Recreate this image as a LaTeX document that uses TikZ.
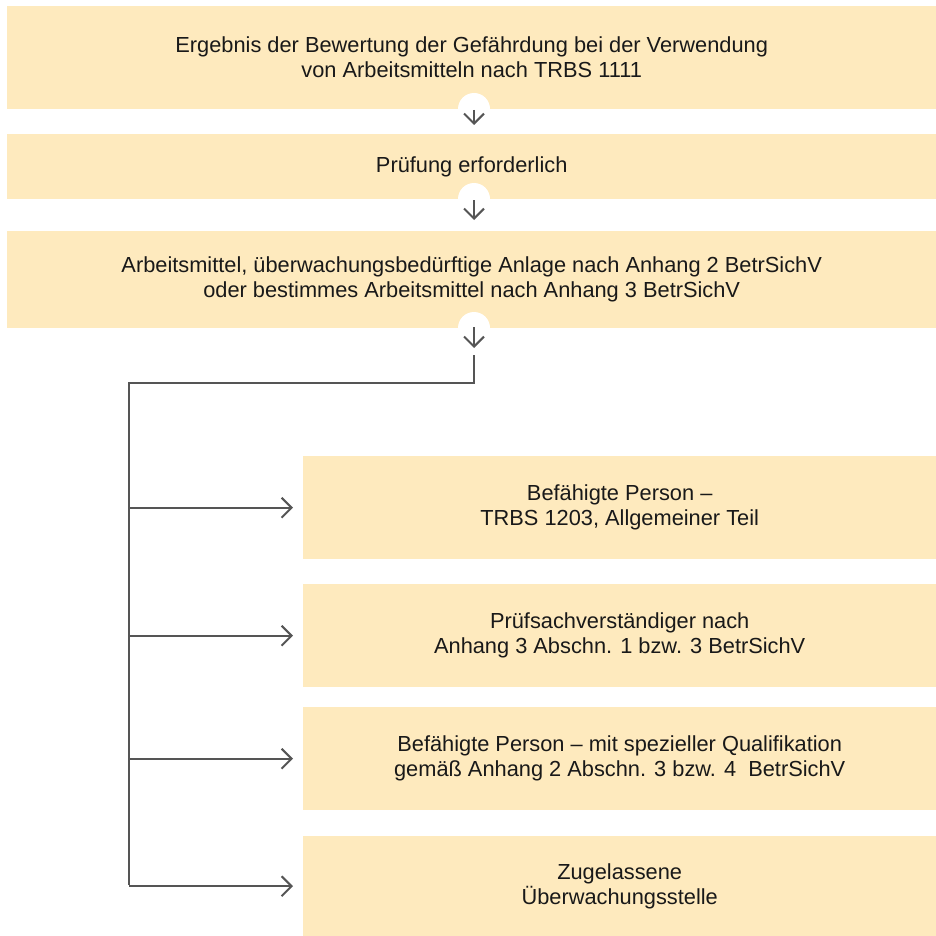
\documentclass[tikz,border=0pt]{standalone}
\usepackage{fontspec}
\setmainfont{Liberation Sans}
\usetikzlibrary{arrows.meta}
\definecolor{boxfill}{RGB}{254,234,190}
\definecolor{linegray}{RGB}{85,85,85}
\tikzset{
  box/.style={fill=boxfill, draw=none, anchor=north west, align=center,
    font=\fontsize{21.8}{25}\selectfont, text=black!90, inner sep=0pt},
  conn/.style={draw=linegray, line width=2pt},
  arr/.style={conn, -{Straight Barb[length=10pt,width=20pt,line width=2pt]}},
  hole/.style={circle, fill=white, draw=none, minimum size=32pt, inner sep=0pt}
}
\begin{document}
\begin{tikzpicture}[x=1pt,y=-1pt]
\useasboundingbox (0,0) rectangle (936,936);
% main column
\node[box, minimum width=929pt, minimum height=103pt] (b1) at (7,6)
  {Ergebnis der Bewertung der Gefährdung bei der Verwendung\\von Arbeitsmitteln nach TRBS 1111};
\node[box, minimum width=929pt, minimum height=65pt] (b2) at (7,134)
  {Prüfung erforderlich};
\node[box, minimum width=929pt, minimum height=97pt] (b3) at (7,231)
  {Arbeitsmittel, überwachungsbedürftige Anlage nach Anhang 2 BetrSichV\\oder bestimmes Arbeitsmittel nach Anhang 3 BetrSichV};
% right column
\node[box, minimum width=633pt, minimum height=103pt] (c1) at (303,456)
  {Befähigte Person –\\TRBS 1203, Allgemeiner Teil};
\node[box, minimum width=633pt, minimum height=103pt] (c2) at (303,584)
  {Prüfsachverständiger nach\\Anhang 3 Abschn. 1 bzw. 3 BetrSichV};
\node[box, minimum width=633pt, minimum height=103pt] (c3) at (303,707)
  {Befähigte Person – mit spezieller Qualifikation\\gemäß Anhang 2 Abschn. 3 bzw. 4~~BetrSichV};
\node[box, minimum width=633pt, minimum height=100pt] (c4) at (303,836)
  {Zugelassene\\Überwachungsstelle};
% white notches under the main boxes
\node[hole] (h1) at (474,109) {};
\node[hole] (h2) at (474,199) {};
\node[hole] (h3) at (474,328) {};
% down arrows
\coordinate (a1s) at (474,110); \coordinate (a1e) at (474,125);
\coordinate (a2s) at (474,200); \coordinate (a2e) at (474,220);
\coordinate (a3s) at (474,327); \coordinate (a3e) at (474,348);
\draw[arr] (a1s) -- (a1e);
\draw[arr] (a2s) -- (a2e);
\draw[arr] (a3s) -- (a3e);
% branching connector
\coordinate (t0) at (474,355);
\coordinate (t1) at (474,383);
\coordinate (t2) at (129,383);
\coordinate (t3) at (129,885);
\draw[conn] (t0) -- (t1) -- (t2) -- (t3);
\foreach \n in {c1,c2,c3,c4}{
  \coordinate (s\n) at (t2 |- \n.west);
  \draw[arr] (s\n) -- ([xshift=-10pt]\n.west);
}
\end{tikzpicture}
\end{document}
